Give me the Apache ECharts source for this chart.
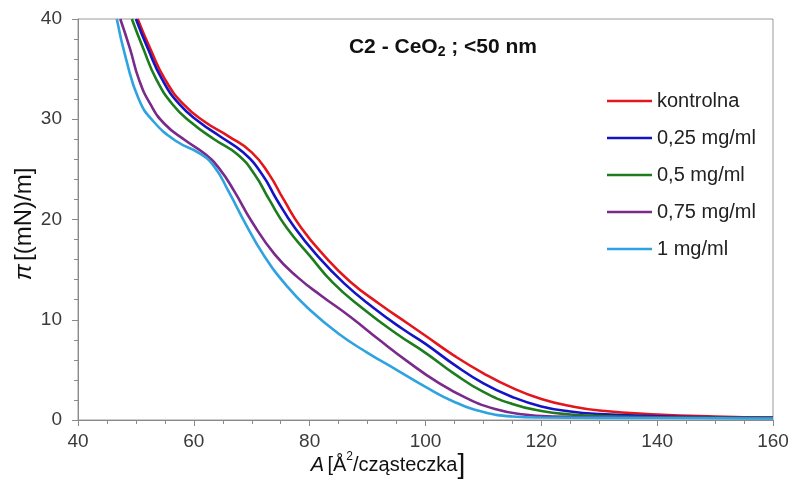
<!DOCTYPE html>
<html>
<head>
<meta charset="utf-8">
<script src="https://cdn.jsdelivr.net/npm/echarts@6/dist/echarts.min.js"></script>
<style>html,body{margin:0;padding:0;background:#fff}#c{width:793px;height:497px}</style>
</head>
<body>
<div id="c"></div>
<script>
const seriesNames = ['kontrolna', '0,25 mg/ml', '0,5 mg/ml', '0,75 mg/ml', '1 mg/ml'];
const xTicks = [40, 60, 80, 100, 120, 140, 160];
const yTicks = [0, 10, 20, 30, 40];

const kontrolna = [[50.3,40],[52.5,37],[55,34],[58.2,31.5],[62,29.7],[66,28.3],[70,26.7],[73,24.5],[75.5,22],[78.5,19.2],[82.5,16.4],[87,13.8],[92,11.6],[97,9.6],[100,8.4],[105,6.4],[110,4.66],[115,3.2],[120,2.1],[125,1.4],[130,0.95],[140,0.55],[150,0.35],[160,0.25]];
const c025 = [[50,40],[52.1,37],[54.5,34],[57.5,31.5],[61,29.7],[64.5,28.3],[68.5,26.7],[71.8,24.5],[74.3,22],[77.4,19.2],[81.3,16.4],[86,13.6],[91,11.2],[96,9.1],[100,7.6],[105,5.5],[110,3.66],[115,2.3],[120,1.35],[125,0.85],[130,0.6],[140,0.38],[150,0.27],[160,0.22]];
const c05 = [[49.3,40],[51.3,37],[53.5,34],[56.3,31.5],[59.5,29.7],[63.5,28],[67.5,26.5],[70.5,24.5],[73,22],[76,19.2],[80,16.4],[84,13.7],[89,11.2],[95,8.6],[100,6.7],[105,4.6],[110,2.8],[115,1.6],[120,0.9],[125,0.55],[130,0.4],[140,0.28],[160,0.22]];
const c075 = [[47.3,40],[49,37],[50.5,34],[52.5,31.5],[55,29.5],[58.5,27.9],[62,26.5],[64.5,25],[67,22.8],[70,19.8],[74,16.5],[78,14.2],[82,12.4],[87,10.3],[92,8],[97,5.8],[102,3.8],[107,2.2],[112,1.1],[117,0.55],[122,0.35],[135,0.25],[160,0.2]];
const c1 = [[46.7,40],[48.3,36],[50.5,32],[53,29.8],[57,27.8],[61,26.6],[63.5,25.3],[66,22.8],[69,19.5],[72,16.5],[76,13.4],[80,11],[85,8.6],[90,6.7],[95,5],[100,3.3],[105,1.8],[110,0.8],[115,0.35],[120,0.25],[140,0.2],[160,0.15]];

const seriesData = [kontrolna, c025, c05, c075, c1];
const colors = ['#e3161c', '#1414c4', '#1d7c1d', '#7a2a8a', '#2ea3df'];

const chart = echarts.init(document.getElementById('c'), null, {renderer: 'canvas'});
const font = 'Liberation Sans, Arial, sans-serif';

const option = {
  animation: false,
  backgroundColor: '#fff',
  grid: {left: 78, right: 20, top: 19, bottom: 77, show: true, borderColor: '#9a9a9a', borderWidth: 1, containLabel: false},
  xAxis: {
    type: 'value', min: xTicks[0], max: xTicks[xTicks.length - 1], interval: 20,
    axisLine: {show: true, lineStyle: {color: '#8a8a8a', width: 1}},
    axisTick: {show: true, length: 6, lineStyle: {color: '#8a8a8a'}},
    minorTick: {show: true, splitNumber: 4, length: 4, lineStyle: {color: '#8a8a8a'}},
    splitLine: {show: false},
    axisLabel: {fontFamily: font, fontSize: 19, color: '#3a3a3a', margin: 12}
  },
  yAxis: {
    type: 'value', min: yTicks[0], max: yTicks[yTicks.length - 1], interval: 10,
    axisLine: {show: true, lineStyle: {color: '#8a8a8a', width: 1}},
    axisTick: {show: true, length: 6, lineStyle: {color: '#8a8a8a'}},
    minorTick: {show: true, splitNumber: 5, length: 4, lineStyle: {color: '#8a8a8a'}},
    splitLine: {show: false},
    axisLabel: {fontFamily: font, fontSize: 19, color: '#3a3a3a', margin: 16}
  },
  legend: {
    orient: 'vertical', left: 607, top: 91, padding: 0,
    icon: 'rect', itemWidth: 45, itemHeight: 2.5, itemGap: 17,
    textStyle: {fontFamily: font, fontSize: 20, color: '#222'},
    data: seriesNames
  },
  series: seriesNames.map((n, i) => ({
    name: n, type: 'line', data: seriesData[i], smooth: 0.5, symbol: 'none',
    clip: true,
    lineStyle: {color: colors[i], width: 2.6}, itemStyle: {color: colors[i]}
  })),
  graphic: [
    {
      type: 'text', x: 443, y: 47,
      style: {
        text: '{b|C2 - CeO}{s|2}{b| ; <50 nm}',
        align: 'center', verticalAlign: 'middle',
        rich: {
          b: {fontFamily: font, fontSize: 21, fontWeight: 'bold', fill: '#111', lineHeight: 24, verticalAlign: 'middle'},
          s: {fontFamily: font, fontSize: 14, fontWeight: 'bold', fill: '#111', lineHeight: 24, verticalAlign: 'bottom', padding: [10, 0, 0, 0]}
        }
      }
    },
    {
      type: 'text', x: 388, y: 465,
      style: {
        text: '{i|A} {n|[Å}{p|2}{n|/cząsteczka}{r|]}',
        align: 'center', verticalAlign: 'middle',
        rich: {
          i: {fontFamily: font, fontSize: 20, fontStyle: 'italic', fill: '#111', lineHeight: 28, verticalAlign: 'middle'},
          n: {fontFamily: font, fontSize: 20, fill: '#111', lineHeight: 28, verticalAlign: 'middle'},
          p: {fontFamily: font, fontSize: 12, fill: '#111', lineHeight: 28, verticalAlign: 'top', padding: [0, 0, 8, 0]},
          r: {fontFamily: font, fontSize: 28, fill: '#111', lineHeight: 28, verticalAlign: 'middle'}
        }
      }
    },
    {
      type: 'text', x: 24, y: 224, rotation: Math.PI / 2,
      style: {
        text: '{i|π} {n|[(mN)/m]}',
        align: 'center', verticalAlign: 'middle',
        rich: {
          i: {fontFamily: font, fontSize: 24, fontStyle: 'italic', fill: '#111'},
          n: {fontFamily: font, fontSize: 24, fill: '#111'}
        }
      }
    }
  ]
};
chart.setOption(option);
</script>
</body>
</html>
